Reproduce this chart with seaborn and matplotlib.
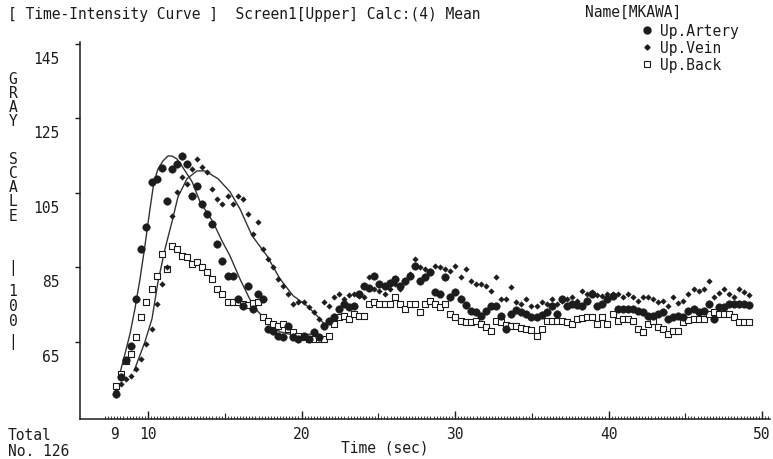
import numpy as np
import seaborn as sns
import matplotlib.pyplot as plt
import matplotlib.transforms as mtransforms
from matplotlib.lines import Line2D
from matplotlib.ticker import FixedLocator

# frames: 126 images, evenly spaced in time
frame_start = 7.92
frame_step = 0.33
n_frames = 126

artery = [51.0, 55.6, 60.2, 63.9, 76.5, 90.0, 95.9, 108.0, 108.8, 111.7,
          102.9, 111.4, 112.8, 114.9, 112.8, 104.2, 106.9, 102.0, 99.4, 96.7,
          91.3, 86.7, 82.7, 82.7, 76.5, 74.7, 80.0, 73.9, 77.9, 76.5,
          68.5, 68.0, 66.6, 66.3, 69.3, 66.3, 65.8, 66.6, 65.8, 67.7,
          66.3, 69.3, 70.6, 71.7, 73.9, 75.2, 74.4, 74.7, 77.9, 80.0,
          79.5, 82.7, 80.6, 80.0, 80.8, 81.9, 80.0, 81.4, 82.7, 85.4,
          81.4, 82.5, 83.8, 78.4, 77.9, 82.5, 77.1, 78.4, 76.5, 74.9,
          73.3, 73.1, 72.0, 73.3, 74.7, 74.7, 72.0, 68.5, 72.5, 73.6,
          73.1, 72.5, 71.7, 71.7, 72.3, 73.1, 74.7, 72.5, 76.5, 74.7,
          75.2, 74.9, 74.7, 76.0, 77.9, 74.7, 75.2, 76.5, 77.4, 73.9,
          73.9, 73.9, 73.9, 73.3, 73.1, 72.0, 72.0, 72.5, 73.1, 71.2,
          71.7, 72.0, 71.7, 73.3, 73.9, 73.1, 73.3, 75.2, 71.2, 74.4,
          74.4, 75.2, 75.2, 75.2, 75.2, 74.9]

vein = [51.8, 53.7, 55.1, 55.9, 57.8, 60.4, 64.5, 68.5, 75.2, 80.6,
        85.1, 98.8, 105.3, 109.3, 107.4, 111.4, 114.1, 112.0, 110.6, 106.1,
        103.4, 102.0, 104.2, 102.0, 104.2, 103.4, 99.4, 94.0, 97.2, 90.0,
        87.3, 85.1, 81.9, 80.0, 77.9, 75.2, 75.7, 75.7, 74.4, 73.1,
        71.2, 75.7, 74.7, 77.1, 77.9, 76.5, 77.6, 77.9, 77.4, 77.1,
        82.5, 79.2, 78.7, 77.9, 79.2, 80.6, 79.2, 81.1, 83.3, 87.3,
        85.1, 84.6, 84.1, 85.4, 85.1, 84.6, 84.1, 85.4, 82.5, 84.6,
        81.4, 80.6, 80.6, 80.0, 78.7, 82.5, 76.5, 76.5, 79.8, 75.7,
        75.2, 76.5, 74.7, 74.7, 75.7, 75.2, 76.5, 75.2, 76.0, 76.5,
        77.1, 76.0, 78.7, 77.9, 78.4, 77.6, 77.4, 77.9, 77.9, 77.9,
        77.1, 77.9, 77.1, 76.0, 77.1, 77.1, 76.5, 75.7, 76.0, 74.7,
        77.1, 75.5, 76.0, 77.9, 79.2, 78.7, 79.2, 81.4, 77.1, 78.2,
        79.2, 77.9, 77.1, 79.2, 78.4, 77.6]

back = [53.2, 56.4, 59.9, 61.8, 66.3, 71.7, 75.7, 79.2, 82.7, 88.6,
        84.6, 90.8, 90.0, 88.1, 87.8, 85.9, 86.5, 85.1, 83.8, 81.9,
        79.2, 77.9, 75.7, 75.7, 75.7, 75.2, 74.9, 75.5, 75.7, 71.7,
        70.6, 69.8, 69.3, 69.8, 68.5, 67.7, 66.6, 66.3, 65.8, 65.8,
        65.8, 65.8, 66.6, 69.8, 71.7, 72.0, 71.2, 72.5, 72.0, 72.0,
        75.2, 75.7, 75.2, 75.2, 75.2, 77.1, 75.2, 73.9, 75.2, 75.2,
        73.1, 75.2, 76.0, 75.2, 74.4, 75.2, 72.5, 71.7, 70.6, 70.4,
        70.4, 70.6, 69.8, 69.0, 68.0, 70.6, 70.4, 69.6, 69.3, 69.3,
        68.8, 68.5, 68.2, 66.6, 68.5, 70.6, 70.6, 70.6, 70.6, 70.4,
        69.8, 71.2, 71.4, 71.7, 71.7, 69.8, 71.7, 69.8, 72.5, 70.6,
        71.2, 71.2, 70.6, 68.5, 67.7, 69.8, 70.6, 69.0, 68.5, 67.2,
        68.0, 68.0, 70.4, 70.9, 71.2, 71.2, 71.2, 72.5, 73.1, 72.5,
        72.5, 72.5, 71.7, 70.4, 70.4, 70.4]

# fitted first-pass curves
artery_fit_t = [8.11, 8.50, 8.83, 9.15, 9.48, 9.80, 10.13, 10.39, 10.65, 10.98,
                11.30, 11.56, 11.89, 12.21, 12.54, 12.87, 13.39, 14.23, 14.82, 15.34,
                15.99, 16.84, 17.75, 18.60, 19.71, 20.75]
artery_fit_v = [55.6, 61.8, 67.2, 73.9, 81.9, 90.8, 100.7, 108.0, 111.4, 113.6,
                114.9, 114.9, 114.1, 112.2, 110.1, 108.0, 102.6, 97.2, 92.1, 88.1,
                81.9, 74.7, 70.4, 67.7, 66.6, 67.2]
vein_fit_t = [9.09, 9.80, 10.26, 10.65, 11.11, 11.56, 11.95, 12.54, 13.19, 13.71,
              14.56, 15.34, 15.99, 16.78, 17.75, 18.60, 19.45, 20.36, 21.01, 21.66]
vein_fit_v = [57.2, 65.0, 71.2, 81.1, 90.0, 97.2, 103.9, 108.8, 110.9, 110.9,
              108.8, 105.3, 100.7, 93.5, 88.1, 81.9, 77.4, 74.7, 72.0, 69.0]

assert len(artery) == len(vein) == len(back) == n_frames
time = frame_start + frame_step * np.arange(n_frames)

ink = '#1c1c1c'
sns.set_style('white')
plt.rcParams['font.family'] = ['DejaVu Sans Mono']
plt.rcParams['font.size'] = 10.5
plt.rcParams['text.color'] = ink

fig = plt.figure(figsize=(7.73, 4.6), dpi=100)
ax = fig.add_axes([80 / 773, 40 / 460, 690 / 773, 377 / 460])

sns.lineplot(x=artery_fit_t, y=artery_fit_v, color='#333333', lw=1.0, ax=ax, sort=False)
sns.lineplot(x=vein_fit_t, y=vein_fit_v, color='#333333', lw=1.0, ax=ax, sort=False)

sns.scatterplot(x=time, y=back, marker='s', s=16, ax=ax, zorder=3)
ax.collections[-1].set_facecolor('white')
ax.collections[-1].set_edgecolor(ink)
ax.collections[-1].set_linewidth(0.8)
sns.scatterplot(x=time, y=vein, marker='D', s=8, color=ink, edgecolor=ink, linewidth=0.3, ax=ax, zorder=4)
sns.scatterplot(x=time, y=artery, marker='o', s=30, color=ink, edgecolor=ink, linewidth=0.3, ax=ax, zorder=5)

ax.set_xlim(5.57, 50.52)
ax.set_ylim(44.3, 145.5)

for side in ['top', 'right']:
    ax.spines[side].set_visible(False)
for side in ['left', 'bottom']:
    ax.spines[side].set_color(ink)
    ax.spines[side].set_linewidth(1.1)

# y axis: ticks out, labels sitting below the tick
ax.set_yticks([65, 85, 105, 125, 145])
ax.tick_params(axis='y', left=True, direction='out', length=3.6, width=1, color=ink, pad=11, labelcolor=ink)
shift = mtransforms.ScaledTranslation(0, -13 / 100, fig.dpi_scale_trans)
for lab in ax.get_yticklabels():
    lab.set_transform(lab.get_transform() + shift)

# x axis: dense comb of inward ticks
ax.set_xticks([10, 20, 30, 40, 50])
ax.xaxis.set_minor_locator(FixedLocator(np.arange(7.2, 50.5, 0.2)))
ax.tick_params(axis='x', which='major', bottom=True, direction='in', length=6, width=1, color=ink, pad=5, labelcolor=ink)
ax.tick_params(axis='x', which='minor', bottom=True, direction='in', length=2, width=0.6, color=ink)
sec = ax.secondary_xaxis('bottom')
sec.set_xticks([15, 25, 35, 45])
sec.tick_params(bottom=True, direction='in', length=4, width=0.8, color=ink, labelbottom=False)
sec.spines['bottom'].set_visible(False)
ax.text(time[0] - 0.1, -0.019, '9', transform=ax.get_xaxis_transform(), ha='center', va='top', color=ink)

ax.set_xlabel('')
ax.set_ylabel('')

# header
fig.text(8 / 773, 1 - 14 / 460, '[ Time-Intensity Curve ]  Screen1[Upper] Calc:(4) Mean', va='center', ha='left')
fig.text(585 / 773, 1 - 12 / 460, 'Name[MKAWA]', va='center', ha='left')

# vertical axis caption, one letter per line
fig.text(13 / 773, 1 - 72 / 460, 'G\nR\nA\nY', ha='center', va='top', linespacing=0.93)
fig.text(13 / 773, 1 - 152 / 460, 'S\nC\nA\nL\nE', ha='center', va='top', linespacing=0.93)
fig.text(13 / 773, 1 - 268 / 460, '|', ha='center', va='center')
fig.text(13 / 773, 1 - 284 / 460, '1\n0\n0', ha='center', va='top', linespacing=0.98)
fig.text(13 / 773, 1 - 342 / 460, '|', ha='center', va='center')

fig.text(385 / 773, 1 - 448 / 460, 'Time (sec)', ha='center', va='center')
fig.text(8 / 773, 1 - 436 / 460, 'Total', ha='left', va='center')
fig.text(8 / 773, 1 - 452 / 460, 'No. 126', ha='left', va='center')

handles = [
    Line2D([], [], marker='o', ls='', color=ink, markersize=5),
    Line2D([], [], marker='D', ls='', color=ink, markersize=2.6),
    Line2D([], [], marker='s', ls='', markerfacecolor='white', markeredgecolor=ink, markersize=4, markeredgewidth=0.8),
]
fig.legend(handles, ['Up.Artery', 'Up.Vein', 'Up.Back'], loc='upper left',
           bbox_to_anchor=(632 / 773, 1 - 17 / 460), frameon=False,
           handlelength=1.0, handletextpad=0.4, labelspacing=0.12,
           borderpad=0, prop={'family': 'DejaVu Sans Mono', 'size': 10.5})

fig.savefig('out.png', dpi=100)
